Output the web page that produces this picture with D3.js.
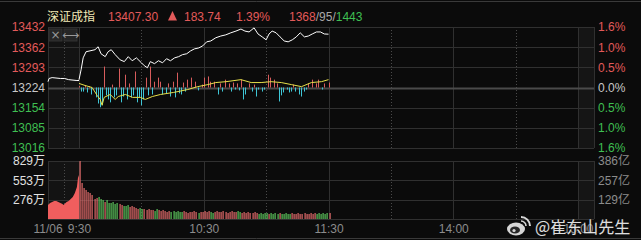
<!DOCTYPE html>
<html>
<head>
<meta charset="utf-8">
<script src="https://cdn.jsdelivr.net/npm/d3@7"></script>
<style>
body { margin: 0; background: #0b0b0b; overflow: hidden; }
svg { display: block; font-family: "Liberation Sans", Arial, "Noto Sans CJK SC", sans-serif; }
</style>
</head>
<body>
<svg></svg>
<script>
// chart data

let baseValue = 13224
let priceTicks = [13432, 13362, 13293, 13224, 13154, 13085, 13016]
let pctTicks = ['1.6%', '1.0%', '0.5%', '0.0%', '0.5%', '1.0%', '1.6%']
let volTicks = [829, 553, 276]
let amtTicks = ['386亿', '257亿', '129亿']
let timeTicks = [0, 60, 120, 180, 240]
let timeLabels = ['9:30', '10:30', '11:30', '14:00', '15:00']

// minutes after 9:30 and index value
let priceMin = [0, 1, 2, 3.4, 5.3, 7.7, 9.2, 10.6, 12.6, 14, 15.5, 17.4, 19.8, 21.8, 23.7, 25.6, 27.6, 30, 31.4, 32.9,
    34.3, 36.3, 38.2, 40.2, 42.1, 44, 46, 47.9, 49.8, 51.8, 53.7, 55.6, 57.6, 59.5, 61.4, 63.4, 65.8, 68.2, 70.6, 73,
    75.5, 77.9, 79.8, 81.8, 84.2, 86.1, 88.1, 90, 91.4, 92.9, 94.8, 96.7, 98.7, 100.6, 102.6, 104.5, 106.4, 108.4,
    110.3, 112.2, 114.2, 116.1, 118, 120]
let priceVal = [13251, 13285, 13326, 13347, 13350, 13354, 13364, 13340, 13330, 13347, 13354, 13337, 13319, 13313,
    13330, 13316, 13326, 13309, 13299, 13292, 13313, 13306, 13316, 13309, 13323, 13316, 13326, 13330, 13337, 13340,
    13350, 13357, 13360, 13367, 13381, 13384, 13395, 13401, 13405, 13412, 13418, 13425, 13418, 13415, 13429, 13408,
    13398, 13388, 13408, 13418, 13412, 13398, 13384, 13381, 13388, 13398, 13412, 13398, 13401, 13408, 13415, 13415,
    13408, 13407.3]

// yellow line, points relative to base
let leadMin = [0, 2.9, 6.3, 8.7, 10.2, 11.1, 12.1, 15, 17.4, 18.9, 22.3, 25.7, 29.5, 31.9, 35.3, 39.2, 45.5, 52.3,
    57.1, 62, 65.8, 70.7, 77.9, 82.8, 87.6, 92.4, 97.3, 102.1, 107, 111.8, 116.6, 120]
let leadVal = [14, 7, 0, -27, -41, -61, -34, -24, -41, -31, -24, -34, -34, -41, -31, -24, -17, -7, 3, 10, 17, 20, 27,
    17, 17, 20, 17, 10, 3, 17, 20, 27]

// red / cyan bars, minute and size
let barMin = [0, 1, 2, 3, 4, 5, 6, 8, 9, 10, 11, 12, 13, 14, 15, 16, 17, 18, 19, 20, 21, 22, 23, 24, 25, 26, 27, 28,
    29, 30, 31, 32, 33, 34, 35, 36, 38, 39, 40, 42, 43, 44, 45, 46, 47, 48, 49, 50, 51, 52, 54, 56, 57, 59, 60, 62, 63,
    65, 67, 68, 69, 70, 72, 73, 74, 75, 76, 77, 78, 79, 80, 82, 83, 84, 85, 86, 88, 89, 91, 92, 94, 95, 96, 97, 98,
    100, 101, 102, 103, 104, 106, 107, 108, 109, 110, 112, 114, 115, 117, 118, 120]
let barVal = [5, -14, -14, 7, -17, 5, -24, -34, -55, -68, -61, 72, -27, -41, -51, 10, -34, -27, 65, -51, -31, 44, -41,
    14, -34, -27, 55, -51, -34, -61, -41, 34, -27, 72, -24, 20, 34, 20, -24, -20, 14, -31, 20, -34, 51, -20, -24, 17,
    -14, 27, 34, 20, -10, 10, 34, 38, 20, 20, -24, 14, -14, 27, 14, -14, 17, -7, 14, -10, 27, -41, -24, 14, -14, 10,
    -31, -7, -14, -7, 44, 34, 27, 14, -48, -27, -17, -7, -17, -14, 10, -14, -24, -31, -14, -7, 14, 27, 14, 27, -7, 14,
    17]

// call auction, minutes after 9:15
let preMin = [0, 0.5, 2, 6, 8, 10, 14, 15]
let preVal = [13244, 13255, 13258, 13255, 13255, 13251, 13248, 13248]
let preVolMin = [0, 1, 2, 3, 4, 5, 6, 7, 7.5, 8, 9, 10, 11, 12, 13, 14, 14.5, 15]
let preVol = [200, 229, 243, 258, 258, 243, 229, 215, 200, 215, 243, 258, 286, 315, 372, 458, 586, 629]

// volume per minute (万) and colour
let volume = [829, 515, 443, 415, 386, 372, 343, 286, 300, 315, 286, 272, 243, 272, 229, 229, 243, 215, 229, 215,
    200, 186, 186, 200, 172, 186, 172, 157, 143, 157, 143, 143, 129, 143, 129, 129, 114, 143, 129, 114, 129, 114, 100,
    114, 100, 114, 100, 114, 100, 100, 114, 100, 86, 100, 100, 114, 100, 86, 100, 100, 114, 100, 114, 100, 86, 100,
    114, 100, 100, 114, 100, 86, 100, 114, 100, 100, 114, 100, 86, 100, 86, 100, 86, 86, 100, 86, 72, 86, 72, 86, 86,
    72, 86, 72, 86, 72, 86, 72, 72, 86, 72, 72, 86, 72, 72, 86, 72, 72, 86, 72, 72, 86, 72, 86, 72, 86, 72, 86, 72,
    86, 86]
let volColor = 'rrrrrrrrrgggrggggggrrgggrrrrrggrrrrrggrrrrrrggggggrrrrrrrgrrrrrggrrrrrrrrrrrggrrrrrrrrgggggrggggrgggggrrrrrrrrrrrrgggggg'

let width = 641
let height = 240
let left = 48
let right = 594
let closeX = 578
let mainTop = 27
let mainBottom = 148
let volTop = 161
let volBottom = 219

let red = '#e25a5a'
let green = '#3fbf52'
let grid = '#303030'

let svg = d3.select('svg')
let xScale, preScale, yScale, volScale

let createCanvas = () => {
    svg.attr('width', width)
    svg.attr('height', height)
    svg.append('rect').attr('width', width).attr('height', height).attr('fill', '#0b0b0b')
}

let createScales = () => {
    xScale = d3.scaleLinear().domain([0, 240]).range([79, closeX])
    preScale = d3.scaleLinear().domain([0, 15]).range([left, 79])
    yScale = d3.scaleLinear().domain([13016, 13432]).range([mainBottom, mainTop])
    volScale = d3.scaleLinear().domain([0, 829]).range([volBottom, volTop])
}

let createFrames = () => {
    // top and bottom separators
    svg.append('line').attr('x1', 0).attr('x2', width).attr('y1', 1.5).attr('y2', 1.5).attr('stroke', '#3a3a3a')
    svg.append('line').attr('x1', 0).attr('x2', width).attr('y1', 238.5).attr('y2', 238.5).attr('stroke', '#3a3a3a')

    let panels = [[mainTop, mainBottom], [volTop, volBottom]]
    panels.forEach(p => {
        svg.append('rect').attr('x', left).attr('y', p[0]).attr('width', 79 - left).attr('height', p[1] - p[0]).attr('fill', '#131313')
        svg.append('rect').attr('x', closeX).attr('y', p[0]).attr('width', right - closeX).attr('height', p[1] - p[0]).attr('fill', '#151515')

        let solid = [preScale(0), xScale(0), xScale(60), xScale(120), xScale(180), xScale(240), right]
        svg.append('g').selectAll('line').data(solid).enter().append('line')
            .attr('x1', d => Math.round(d) + 0.5).attr('x2', d => Math.round(d) + 0.5)
            .attr('y1', p[0]).attr('y2', p[1]).attr('stroke', grid)

        let dotted = [preScale(7.5), xScale(30), xScale(90), xScale(150), xScale(210)]
        svg.append('g').selectAll('line').data(dotted).enter().append('line')
            .attr('x1', d => Math.round(d) + 0.5).attr('x2', d => Math.round(d) + 0.5)
            .attr('y1', p[0]).attr('y2', p[1]).attr('stroke', '#4a4a4a').attr('stroke-dasharray', '1,2')
    })

    // horizontal grid, main
    svg.append('g').selectAll('line').data(priceTicks).enter().append('line')
        .attr('x1', left).attr('x2', right)
        .attr('y1', d => Math.round(yScale(d)) + 0.5).attr('y2', d => Math.round(yScale(d)) + 0.5)
        .attr('stroke', d => d == baseValue ? '#4a4a4a' : grid)
        .attr('stroke-width', d => d == baseValue ? 2 : 1)

    // horizontal grid, volume
    svg.append('g').selectAll('line').data([829, 553, 276, 0]).enter().append('line')
        .attr('x1', left).attr('x2', right)
        .attr('y1', d => Math.round(volScale(d)) + 0.5).attr('y2', d => Math.round(volScale(d)) + 0.5)
        .attr('stroke', grid)
}

let createAxis = () => {
    let colorFor = (d, i) => i < 3 ? red : (i == 3 ? '#c8c8c8' : green)

    let yAxis = d3.axisLeft(yScale).tickValues(priceTicks).tickSize(0).tickPadding(3).tickFormat(d3.format('d'))
    let gy = svg.append('g').attr('id', 'y-axis').attr('transform', 'translate(' + left + ',0)').call(yAxis)
    gy.select('.domain').remove()
    gy.selectAll('text').attr('font-size', 12).attr('font-family', 'Liberation Sans, Arial').attr('fill', colorFor)

    let pctAxis = d3.axisRight(yScale).tickValues(priceTicks).tickSize(0).tickPadding(4).tickFormat((d, i) => pctTicks[i])
    let gp = svg.append('g').attr('transform', 'translate(' + right + ',0)').call(pctAxis)
    gp.select('.domain').remove()
    gp.selectAll('text').attr('font-size', 12).attr('font-family', 'Liberation Sans, Arial').attr('fill', colorFor)

    let volAxis = d3.axisLeft(volScale).tickValues(volTicks).tickSize(0).tickPadding(3).tickFormat(d => d + '万')
    let gv = svg.append('g').attr('transform', 'translate(' + left + ',0)').call(volAxis)
    gv.select('.domain').remove()
    gv.selectAll('text').attr('font-size', 12).attr('font-family', 'Liberation Sans, Arial, Noto Sans CJK SC').attr('fill', '#e0e0e0')

    let amtAxis = d3.axisRight(volScale).tickValues(volTicks).tickSize(0).tickPadding(4).tickFormat((d, i) => amtTicks[i])
    let ga = svg.append('g').attr('transform', 'translate(' + right + ',0)').call(amtAxis)
    ga.select('.domain').remove()
    ga.selectAll('text').attr('font-size', 12).attr('font-family', 'Liberation Sans, Arial, Noto Sans CJK SC').attr('fill', '#8c8c8c')

    let xAxis = d3.axisBottom(xScale).tickValues(timeTicks).tickSize(0).tickPadding(5).tickFormat((d, i) => timeLabels[i])
    let gx = svg.append('g').attr('id', 'x-axis').attr('transform', 'translate(0,' + volBottom + ')').call(xAxis)
    gx.select('.domain').remove()
    gx.selectAll('text').attr('font-size', 12).attr('font-family', 'Liberation Sans, Arial').attr('fill', '#8c8c8c')

    svg.append('text').attr('x', preScale(0)).attr('y', 233).attr('text-anchor', 'middle')
        .attr('font-size', 12).attr('fill', '#8c8c8c').text('11/06')
}

let createButtons = () => {
    let btn = [[49, '×'], [64, '⟷']]
    btn.forEach(b => {
        svg.append('rect').attr('x', b[0]).attr('y', 29).attr('width', 13).attr('height', 12).attr('fill', '#262626').attr('stroke', '#333')
        svg.append('text').attr('x', b[0] + 6.5).attr('y', 39).attr('text-anchor', 'middle')
            .attr('font-size', 12).attr('font-family', 'DejaVu Sans').attr('fill', '#9a9a9a').text(b[1])
    })
}

let createMarks = () => {
    // red / cyan breadth bars
    svg.append('g').selectAll('rect').data(barMin).enter().append('rect')
        .attr('x', d => Math.round(xScale(d)))
        .attr('width', 1)
        .attr('y', (d, i) => Math.min(yScale(baseValue + barVal[i]), yScale(baseValue)))
        .attr('height', (d, i) => Math.abs(yScale(baseValue + barVal[i]) - yScale(baseValue)))
        .attr('fill', (d, i) => barVal[i] > 0 ? '#d85c5c' : '#3ec6d6')

    let line = d3.line().x(d => d[0]).y(d => d[1])

    let lead = leadMin.map((m, i) => [xScale(m), yScale(baseValue + leadVal[i])])
    svg.append('path').attr('d', line(lead)).attr('fill', 'none').attr('stroke', '#e6e04a').attr('stroke-width', 1)

    let pts = priceMin.map((m, i) => [xScale(m), yScale(priceVal[i])])
    svg.append('path').attr('d', line(pts)).attr('fill', 'none').attr('stroke', '#ffffff').attr('stroke-width', 1)

    let pre = preMin.map((m, i) => [preScale(m), yScale(preVal[i])])
    svg.append('path').attr('d', line(pre)).attr('fill', 'none').attr('stroke', '#ffffff').attr('stroke-width', 1)

    // call auction volume area
    let area = d3.area().x(d => preScale(d[0])).y0(volBottom).y1(d => volScale(d[1]))
    svg.append('path').attr('d', area(preVolMin.map((m, i) => [m, preVol[i]]))).attr('fill', '#f05e5e')

    // volume bars
    svg.append('g').selectAll('rect').data(volume).enter().append('rect')
        .attr('x', (d, i) => Math.round(xScale(i)) + 0.5)
        .attr('width', 1.2)
        .attr('y', d => volScale(d))
        .attr('height', d => volBottom - volScale(d))
        .attr('fill', (d, i) => volColor[i] == 'g' ? '#5cc45c' : '#e06a6a')
}

let createHeader = () => {
    let items = [
        [47, '深证成指', '#f2e9b6'],
        [108, '13407.30', red],
        [184, '183.74', red],
        [236, '1.39%', red]
    ]
    svg.append('g').selectAll('text').data(items).enter().append('text')
        .attr('x', d => d[0]).attr('y', 21)
        .attr('font-size', 12)
        .attr('font-family', 'Liberation Sans, Arial, Noto Sans CJK SC')
        .attr('fill', d => d[2])
        .text(d => d[1])
    svg.append('path').attr('d', 'M168,20.5 L177,20.5 L172.5,11 Z').attr('fill', red)

    let count = svg.append('text').attr('x', 289).attr('y', 21).attr('font-size', 12)
    count.append('tspan').attr('fill', red).text('1368')
    count.append('tspan').attr('fill', '#a8a8a8').text('/95/')
    count.append('tspan').attr('fill', green).text('1443')
}

let createWatermark = () => {
    let g = svg.append('g').attr('opacity', 0.92)
    g.append('ellipse').attr('cx', 516).attr('cy', 229).attr('rx', 9).attr('ry', 6.5).attr('fill', '#e8e8e8')
    g.append('ellipse').attr('cx', 515).attr('cy', 230).attr('rx', 5).attr('ry', 3.6).attr('fill', '#2a2a2a')
    g.append('circle').attr('cx', 514).attr('cy', 230.5).attr('r', 1.6).attr('fill', '#e8e8e8')
    g.append('path').attr('d', 'M521,217 A9,9 0 0 1 530,226').attr('fill', 'none').attr('stroke', '#e8e8e8').attr('stroke-width', 2)
    g.append('path').attr('d', 'M521,221 A5,5 0 0 1 526,226').attr('fill', 'none').attr('stroke', '#e8e8e8').attr('stroke-width', 1.6)
    g.append('text').attr('x', 535).attr('y', 233).attr('font-size', 16)
        .attr('font-family', 'Noto Sans CJK SC, sans-serif')
        .attr('fill', '#f0f0f0').attr('stroke', '#222').attr('stroke-width', 0.6).attr('paint-order', 'stroke')
        .text('@崔东山先生')
}

createCanvas();
createScales();
createFrames();
createButtons();
createMarks();
createAxis();
createHeader();
createWatermark();
</script>
</body>
</html>
